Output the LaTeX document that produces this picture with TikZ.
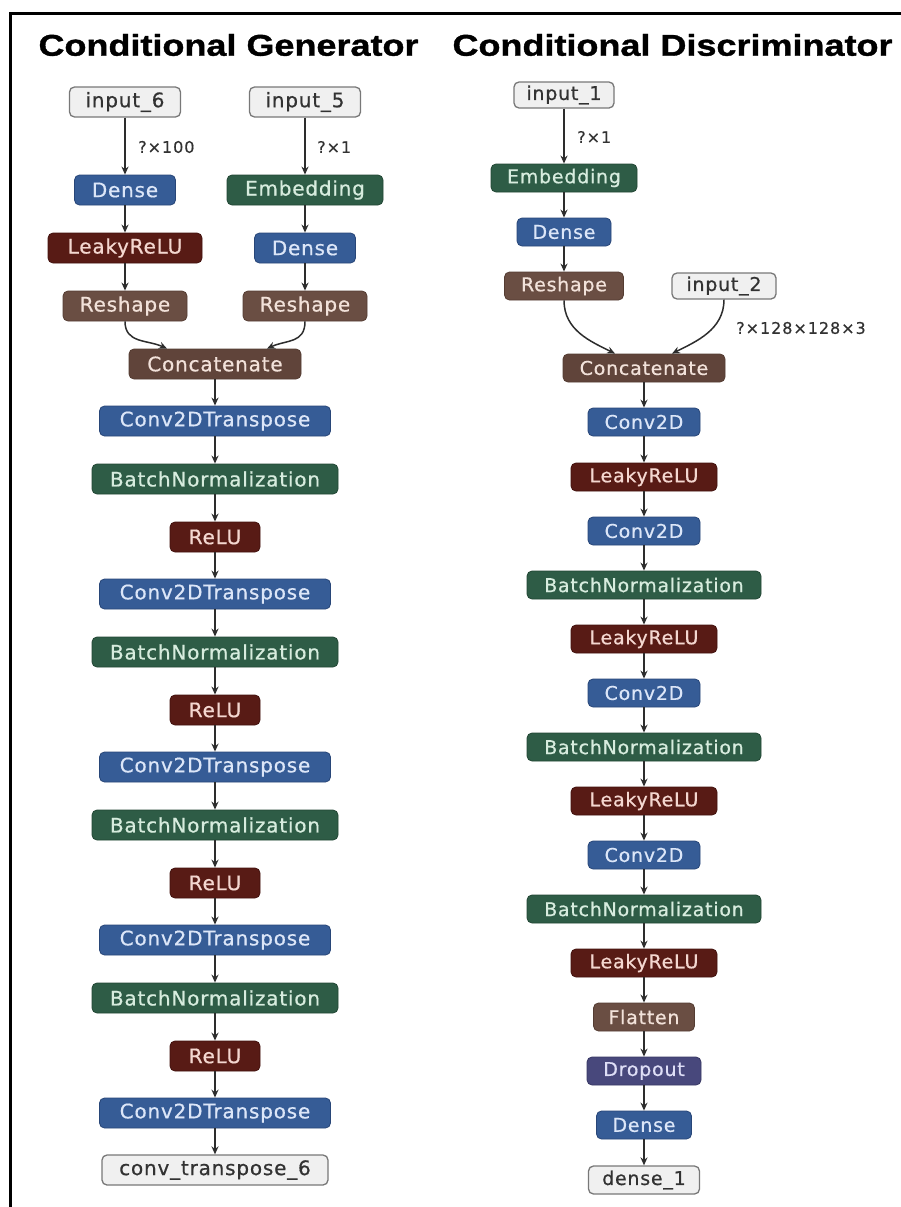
\documentclass[tikz,border=0pt]{standalone}
\usepackage{fontspec}
\setmainfont{DejaVu Sans}
\newfontfamily\titlefont{Liberation Sans}[FakeStretch=1.2,FakeBold=1.2]
\newfontfamily\nfont{DejaVu Sans}[LetterSpace=4,FakeBold=0.6]
\newfontfamily\lfont{DejaVu Sans}[LetterSpace=6,FakeBold=0.4]
\usetikzlibrary{arrows.meta}
\definecolor{cblue}{RGB}{54,92,150}
\definecolor{cblueD}{RGB}{40,70,120}
\definecolor{cblueT}{RGB}{220,230,248}
\definecolor{cgreen}{RGB}{46,92,70}
\definecolor{cgreenD}{RGB}{34,70,52}
\definecolor{cgreenT}{RGB}{215,236,222}
\definecolor{cred}{RGB}{88,27,21}
\definecolor{credD}{RGB}{66,18,14}
\definecolor{credT}{RGB}{244,215,208}
\definecolor{cbrown}{RGB}{106,78,67}
\definecolor{cbrownD}{RGB}{84,60,50}
\definecolor{cbrownT}{RGB}{242,226,218}
\definecolor{cconc}{RGB}{96,68,58}
\definecolor{cpurple}{RGB}{72,72,124}
\definecolor{cpurpleD}{RGB}{56,56,100}
\definecolor{cpurpleT}{RGB}{222,222,246}
\definecolor{cgray}{RGB}{240,240,240}
\definecolor{cgrayD}{RGB}{120,120,120}
\definecolor{cgrayT}{RGB}{50,50,50}
\definecolor{carrow}{RGB}{45,45,45}
\tikzset{
  glay/.style={rounded corners=5pt, minimum height=30pt, inner xsep=4pt, inner ysep=0pt,
    font=\nfont\fontsize{20}{23}\selectfont, line width=0.8pt},
  dlay/.style={rounded corners=5pt, minimum height=28pt, inner xsep=4pt, inner ysep=0pt,
    font=\nfont\fontsize{19}{22}\selectfont, line width=0.8pt},
  blu/.style={fill=cblue, draw=cblueD, text=cblueT},
  grn/.style={fill=cgreen, draw=cgreenD, text=cgreenT},
  rd/.style={fill=cred, draw=credD, text=credT},
  brn/.style={fill=cbrown, draw=cbrownD, text=cbrownT},
  conc/.style={fill=cconc, draw=cbrownD, text=cbrownT},
  pur/.style={fill=cpurple, draw=cpurpleD, text=cpurpleT},
  io/.style={fill=cgray, draw=cgrayD, text=cgrayT, line width=1.3pt},
  arr/.style={-{Stealth[length=8pt,width=7pt]}, line width=1.5pt, draw=carrow},
  lab/.style={anchor=west, text=cgrayT, font=\lfont\fontsize{16}{19}\selectfont, inner sep=0pt},
  ttl/.style={font=\titlefont\bfseries\fontsize{30}{34}\selectfont, text=black, inner sep=0pt}
}
\begin{document}
\begin{tikzpicture}[x=1pt,y=-1pt]
\useasboundingbox (0,0) rectangle (901,1207);
\fill[white] (0,0) rectangle (901,1207);
\draw[line width=3pt, black] (10,1207) -- (10,13.5) -- (901,13.5);

% titles
\node[ttl] (tg) at (228.5,45) {Conditional Generator};
\node[ttl] (td) at (672.5,45) {Conditional Discriminator};

% ===== Generator =====
\node[glay,io,minimum width=111pt] (in6) at (125,102) {input\_6};
\node[glay,io,minimum width=111pt] (in5) at (305,102) {input\_5};
\node[glay,blu,minimum width=101pt] (gd1) at (125,190) {Dense};
\node[glay,grn,minimum width=156pt] (gemb) at (305,190) {Embedding};
\node[glay,rd,minimum width=154pt] (glr) at (125,248) {LeakyReLU};
\node[glay,blu,minimum width=101pt] (gd2) at (305,248) {Dense};
\node[glay,brn,minimum width=124pt] (grs1) at (125,306) {Reshape};
\node[glay,brn,minimum width=124pt] (grs2) at (305,306) {Reshape};
\node[glay,conc,minimum width=172pt] (gcat) at (215,364) {Concatenate};

\node[glay,blu,minimum width=231pt] (gc1) at (215,421) {Conv2DTranspose};
\node[glay,grn,minimum width=246pt] (gb1) at (215,479) {BatchNormalization};
\node[glay,rd,minimum width=90pt] (gr1) at (215,537) {ReLU};
\node[glay,blu,minimum width=231pt] (gc2) at (215,594) {Conv2DTranspose};
\node[glay,grn,minimum width=246pt] (gb2) at (215,652) {BatchNormalization};
\node[glay,rd,minimum width=90pt] (gr2) at (215,710) {ReLU};
\node[glay,blu,minimum width=231pt] (gc3) at (215,767) {Conv2DTranspose};
\node[glay,grn,minimum width=246pt] (gb3) at (215,825) {BatchNormalization};
\node[glay,rd,minimum width=90pt] (gr3) at (215,883) {ReLU};
\node[glay,blu,minimum width=231pt] (gc4) at (215,940) {Conv2DTranspose};
\node[glay,grn,minimum width=246pt] (gb4) at (215,998) {BatchNormalization};
\node[glay,rd,minimum width=90pt] (gr4) at (215,1056) {ReLU};
\node[glay,blu,minimum width=231pt] (gc5) at (215,1113) {Conv2DTranspose};
\node[glay,io,minimum width=226pt] (gout) at (215,1170) {conv\_transpose\_6};

\draw[arr] (in6) -- (gd1);
\node[lab] (l1) at (138,147) {?×100};
\draw[arr] (in5) -- (gemb);
\node[lab] (l2) at (317,147) {?×1};
\draw[arr] (gd1) -- (glr);
\draw[arr] (glr) -- (grs1);
\draw[arr] (gemb) -- (gd2);
\draw[arr] (gd2) -- (grs2);
\draw[arr] (grs1.south) .. controls +(0,22) and +(-20,-9) .. ([xshift=-48pt]gcat.north);
\draw[arr] (grs2.south) .. controls +(0,22) and +(20,-9) .. ([xshift=52pt]gcat.north);
\draw[arr] (gcat) -- (gc1);
\draw[arr] (gc1) -- (gb1);
\draw[arr] (gb1) -- (gr1);
\draw[arr] (gr1) -- (gc2);
\draw[arr] (gc2) -- (gb2);
\draw[arr] (gb2) -- (gr2);
\draw[arr] (gr2) -- (gc3);
\draw[arr] (gc3) -- (gb3);
\draw[arr] (gb3) -- (gr3);
\draw[arr] (gr3) -- (gc4);
\draw[arr] (gc4) -- (gb4);
\draw[arr] (gb4) -- (gr4);
\draw[arr] (gr4) -- (gc5);
\draw[arr] (gc5) -- (gout);

% ===== Discriminator =====
\node[dlay,io,minimum width=100pt,minimum height=26pt] (in1) at (564,95) {input\_1};
\node[dlay,grn,minimum width=146pt] (demb) at (564,178) {Embedding};
\node[dlay,blu,minimum width=94pt] (dd1) at (564,232) {Dense};
\node[dlay,brn,minimum width=119pt] (drs) at (564,286) {Reshape};
\node[dlay,io,minimum width=104pt,minimum height=26pt] (in2) at (724,286) {input\_2};
\node[dlay,conc,minimum width=162pt] (dcat) at (644,368) {Concatenate};

\node[dlay,blu,minimum width=112pt] (dc1) at (644,422) {Conv2D};
\node[dlay,rd,minimum width=146pt] (dl1) at (644,477) {LeakyReLU};
\node[dlay,blu,minimum width=112pt] (dc2) at (644,531) {Conv2D};
\node[dlay,grn,minimum width=234pt] (db2) at (644,585) {BatchNormalization};
\node[dlay,rd,minimum width=146pt] (dl2) at (644,639) {LeakyReLU};
\node[dlay,blu,minimum width=112pt] (dc3) at (644,693) {Conv2D};
\node[dlay,grn,minimum width=234pt] (db3) at (644,747) {BatchNormalization};
\node[dlay,rd,minimum width=146pt] (dl3) at (644,801) {LeakyReLU};
\node[dlay,blu,minimum width=112pt] (dc4) at (644,855) {Conv2D};
\node[dlay,grn,minimum width=234pt] (db4) at (644,909) {BatchNormalization};
\node[dlay,rd,minimum width=146pt] (dl4) at (644,963) {LeakyReLU};
\node[dlay,brn,minimum width=101pt] (dfl) at (644,1017) {Flatten};
\node[dlay,pur,minimum width=114pt] (ddo) at (644,1071) {Dropout};
\node[dlay,blu,minimum width=95pt] (dd2) at (644,1125) {Dense};
\node[dlay,io,minimum width=111pt] (dout) at (644,1180) {dense\_1};

\draw[arr] (in1) -- (demb);
\node[lab] (l3) at (577,137) {?×1};
\draw[arr] (demb) -- (dd1);
\draw[arr] (dd1) -- (drs);
\draw[arr] (drs.south) .. controls +(0,30) and +(-24,-12) .. ([xshift=-29pt]dcat.north);
\draw[arr] (in2.south) .. controls +(0,30) and +(24,-12) .. ([xshift=28pt]dcat.north);
\node[lab] (l4) at (736,328) {?×128×128×3};
\draw[arr] (dcat) -- (dc1);
\draw[arr] (dc1) -- (dl1);
\draw[arr] (dl1) -- (dc2);
\draw[arr] (dc2) -- (db2);
\draw[arr] (db2) -- (dl2);
\draw[arr] (dl2) -- (dc3);
\draw[arr] (dc3) -- (db3);
\draw[arr] (db3) -- (dl3);
\draw[arr] (dl3) -- (dc4);
\draw[arr] (dc4) -- (db4);
\draw[arr] (db4) -- (dl4);
\draw[arr] (dl4) -- (dfl);
\draw[arr] (dfl) -- (ddo);
\draw[arr] (ddo) -- (dd2);
\draw[arr] (dd2) -- (dout);
\end{tikzpicture}
\end{document}
